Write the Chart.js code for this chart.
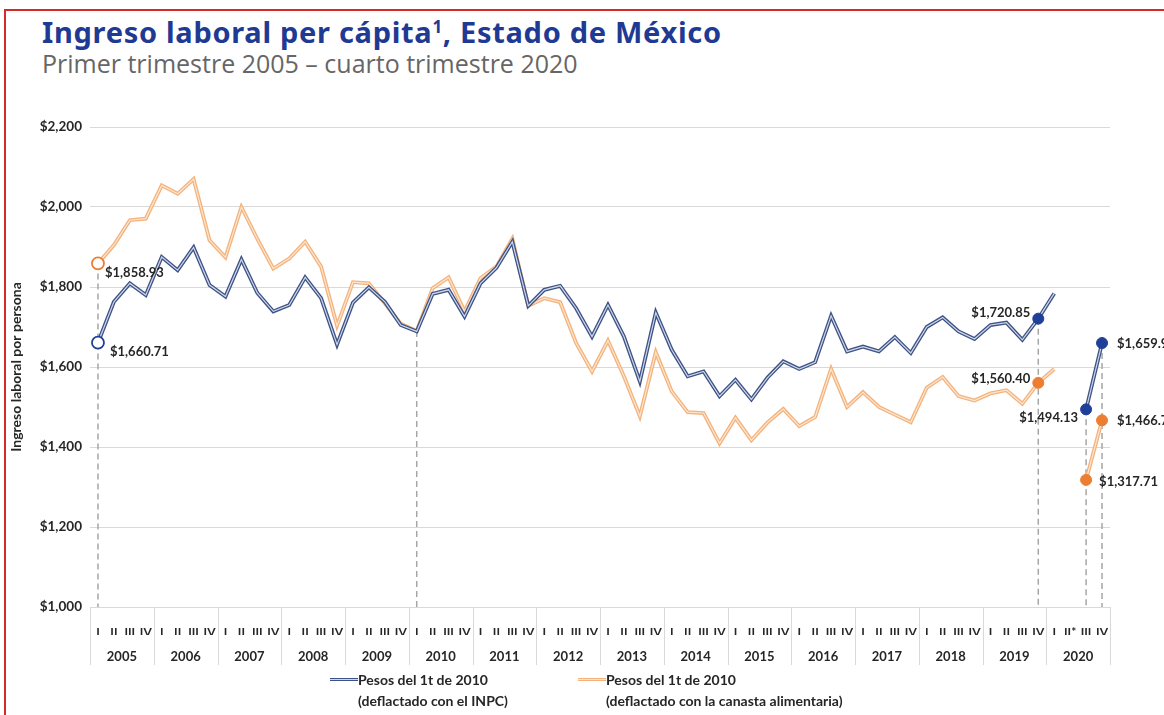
<!DOCTYPE html>
<html>
<head>
<meta charset="utf-8">
<script src="https://cdn.jsdelivr.net/npm/chart.js@4.4.1/dist/chart.umd.min.js"></script>
<style>
body { margin: 0; background: #fff; width: 1164px; height: 715px; overflow: hidden; position: relative; font-family: Lato, sans-serif; }
#frame { position: absolute; left: 4px; top: 9px; width: 1300px; height: 900px; border-left: 2px solid #d42a2a; border-top: 2px solid #d42a2a; }
#title { position: absolute; left: 42px; top: 12px; font: bold 29px "Noto Sans"; color: #1f3a93; white-space: nowrap; letter-spacing: 0.7px; }
#title sup { font-size: 17px; vertical-align: 10px; }
#subtitle { position: absolute; left: 42px; top: 46px; font: 25px "Open Sans"; color: #666; white-space: nowrap; }
#chart { position: absolute; left: 0; top: 100px; }
.legend { position: absolute; top: 669px; font: bold 14px Lato; color: #262626; line-height: 21px; white-space: nowrap; }
.swatch { position: absolute; left: -28px; top: 9px; width: 28px; height: 1px; }
</style>
</head>
<body>
<div id="frame"></div>
<div id="title">Ingreso laboral per cápita<sup>1</sup>, Estado de México</div>
<div id="subtitle">Primer trimestre 2005 – cuarto trimestre 2020</div>
<canvas id="chart" width="1164" height="580"></canvas>
<div class="legend" style="left:358px">
  <div class="swatch" style="background:#cfd7e8;border-top:1.5px solid #3d5286;border-bottom:1.5px solid #3d5286"></div>
  Pesos del 1t de 2010<br>(deflactado con el INPC)
</div>
<div class="legend" style="left:606px">
  <div class="swatch" style="background:#fde6d0;border-top:1.5px solid #f4b27c;border-bottom:1.5px solid #f4b27c"></div>
  Pesos del 1t de 2010<br>(deflactado con la canasta alimentaria)
</div>
<script>
// Years and quarter tick labels
const years = ['2005', '2006', '2007', '2008', '2009', '2010', '2011', '2012',
               '2013', '2014', '2015', '2016', '2017', '2018', '2019', '2020'];
const quarters = ['I', 'II', 'III', 'IV'];
const quarterLabels = years.flatMap(y => quarters.map(q => (y === '2020' && q === 'II') ? 'II*' : q));

// Pesos del 1t de 2010, deflactado con el INPC
const inpc = [
    1660.71, 1763, 1809, 1780,   1875, 1842, 1899, 1805,   1776, 1869, 1785, 1739,
    1755, 1824, 1772, 1656,      1761, 1799, 1763, 1705,   1689, 1783, 1793, 1726,
    1809, 1848, 1913, 1753,      1793, 1803, 1747, 1676,   1755, 1676, 1564, 1736,
    1643, 1577, 1589, 1527,      1568, 1519, 1573, 1614,   1595, 1612, 1728, 1639,
    1651, 1639, 1675, 1635,      1700, 1724, 1689, 1670,   1705, 1711, 1668, 1720.85,
    1784, null, 1494.13, 1659.94
];

// Pesos del 1t de 2010, deflactado con la canasta alimentaria
const canasta = [
    1858.93, 1905, 1967, 1971,   2054, 2033, 2070, 1917,   1874, 2000, 1920, 1846,
    1871, 1913, 1851, 1703,      1812, 1809, 1759, 1708,   1690, 1797, 1824, 1739,
    1822, 1851, 1921, 1753,      1772, 1762, 1660, 1589,   1666, 1577, 1477, 1637,
    1539, 1487, 1485, 1409,      1473, 1417, 1461, 1495,   1452, 1475, 1595, 1500,
    1537, 1500, 1481, 1462,      1548, 1575, 1527, 1516,   1534, 1542, 1508, 1560.40,
    1595, null, 1317.71, 1466.74
];

const markedPoints = [0, 59, 62, 63];   // 0 is drawn hollow
const guidePoints = [0, 20, 59, 62, 63]; // dashed drop lines
const labelledInpc = [0, 59, 62, 63];
const labelledCanasta = [0, 59, 62, 63];

const BLUE = '#3d5286', BLUE_IN = '#cfd7e8', BLUE_DOT = '#1f3f99';
const ORANGE = '#f4b27c', ORANGE_IN = '#fde6d0', ORANGE_DOT = '#ed7d31';

const money = v => '$' + v.toLocaleString('en-US', { minimumFractionDigits: 2, maximumFractionDigits: 2 });

const markerOpts = (dot) => ({
    pointRadius: ctx => markedPoints.includes(ctx.dataIndex) ? (ctx.dataIndex === 0 ? 6 : 5.5) : 0,
    pointBackgroundColor: ctx => ctx.dataIndex === 0 ? '#fff' : dot,
    pointBorderColor: dot,
    pointBorderWidth: ctx => ctx.dataIndex === 0 ? 1.8 : 1
});

// dashed drop lines + year separators under the axis
const guidesPlugin = {
    id: 'guides',
    beforeDatasetsDraw(chart) {
        const { ctx, chartArea, scales } = chart;
        ctx.save();
        ctx.strokeStyle = '#a6a6a6';
        ctx.lineWidth = 1.5;
        ctx.setLineDash([6, 4]);
        guidePoints.forEach(i => {
            const x = scales.x.getPixelForValue(i);
            const top = Math.max(inpc[i] ?? 0, canasta[i] ?? 0);
            ctx.beginPath();
            ctx.moveTo(x, scales.y.getPixelForValue(top));
            ctx.lineTo(x, chartArea.bottom);
            ctx.stroke();
        });
        ctx.restore();
    },
    afterDraw(chart) {
        const { ctx, chartArea, scales } = chart;
        const step = scales.x.getPixelForValue(1) - scales.x.getPixelForValue(0);
        ctx.save();
        ctx.strokeStyle = '#d9d9d9';
        ctx.lineWidth = 1;
        for (let k = 0; k <= years.length; k++) {
            const x = Math.round(scales.x.getPixelForValue(k * 4) - step / 2) + 0.5;
            ctx.beginPath();
            ctx.moveTo(x, chartArea.bottom);
            ctx.lineTo(x, scales.x2.bottom);
            ctx.stroke();
        }
        ctx.restore();
    }
};

// value labels next to the marked points
const labelPlugin = {
    id: 'pointLabels',
    afterDatasetsDraw(chart) {
        const { ctx, scales } = chart;
        const spots = [
            { data: canasta, i: 0,  dx: 7,   dy: 9,  align: 'left' },
            { data: inpc,    i: 0,  dx: 12,  dy: 9,  align: 'left' },
            { data: inpc,    i: 59, dx: -8,  dy: -6, align: 'right' },
            { data: canasta, i: 59, dx: -8,  dy: -4, align: 'right' },
            { data: inpc,    i: 62, dx: -8,  dy: 8,  align: 'right' },
            { data: inpc,    i: 63, dx: 15,  dy: 1,  align: 'left' },
            { data: canasta, i: 63, dx: 15,  dy: 1,  align: 'left' },
            { data: canasta, i: 62, dx: 13,  dy: 2,  align: 'left' }
        ];
        ctx.save();
        ctx.font = 'bold 13px Lato';
        ctx.fillStyle = '#262626';
        ctx.textBaseline = 'middle';
        spots.forEach(s => {
            const list = s.data === inpc ? labelledInpc : labelledCanasta;
            if (!list.includes(s.i)) return;
            const x = scales.x.getPixelForValue(s.i);
            const y = scales.y.getPixelForValue(s.data[s.i]);
            ctx.textAlign = s.align;
            ctx.fillText(money(s.data[s.i]), x + s.dx, y + s.dy);
        });
        ctx.restore();
    }
};

const chart = new Chart(document.getElementById('chart'), {
    type: 'line',
    data: {
        labels: quarterLabels,
        datasets: [
            { data: inpc, borderColor: BLUE_IN, borderWidth: 1.2, order: 0, ...markerOpts(BLUE_DOT) },
            { data: inpc, borderColor: BLUE, borderWidth: 3.8, order: 1, pointRadius: 0 },
            { data: canasta, borderColor: ORANGE_IN, borderWidth: 1.2, order: 2, ...markerOpts(ORANGE_DOT) },
            { data: canasta, borderColor: ORANGE, borderWidth: 3.8, order: 3, pointRadius: 0 }
        ]
    },
    options: {
        responsive: false,
        animation: false,
        spanGaps: false,
        layout: { padding: { left: 4, right: 54, top: 27, bottom: 15 } },
        plugins: { legend: { display: false }, tooltip: { enabled: false } },
        scales: {
            y: {
                min: 1000,
                max: 2200,
                afterFit: s => { s.width = 86; },
                ticks: {
                    stepSize: 200,
                    padding: 8,
                    color: '#262626',
                    font: { family: 'Lato', weight: 'bold', size: 13.5 },
                    callback: v => '$' + v.toLocaleString('en-US')
                },
                grid: { color: '#d9d9d9', drawTicks: false },
                border: { display: false },
                title: {
                    display: true,
                    text: 'Ingreso laboral por persona',
                    color: '#262626',
                    font: { family: 'Lato', weight: 'bold', size: 14 },
                    padding: { top: 4, bottom: 0 }
                }
            },
            x: {
                offset: true,
                afterFit: s => { s.height = 28; },
                grid: { display: false },
                border: { display: false },
                ticks: {
                    autoSkip: false,
                    maxRotation: 0,
                    padding: 10,
                    color: '#262626',
                    font: { family: 'Lato', weight: 'bold', size: 12 }
                }
            },
            x2: {
                type: 'category',
                labels: years,
                position: 'bottom',
                offset: true,
                afterFit: s => { s.height = 30; },
                grid: { display: false },
                border: { display: false },
                ticks: {
                    padding: 6,
                    color: '#262626',
                    font: { family: 'Lato', weight: 'bold', size: 13 }
                }
            }
        }
    },
    plugins: [guidesPlugin, labelPlugin]
});
</script>
</body>
</html>
